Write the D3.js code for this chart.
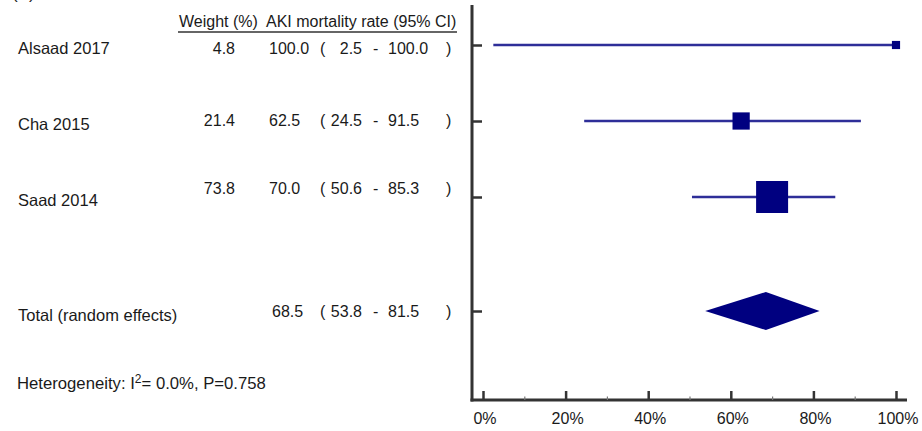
<!DOCTYPE html>
<html>
<head>
  <script src="https://cdn.jsdelivr.net/npm/d3@7/dist/d3.min.js"></script>
  <style>
    body { margin: 0; background: #fff; }
    text { font-family: "Liberation Sans", Arial, sans-serif; fill: #1a1a1a; }
  </style>
</head>
<title>Forest plot: AKI mortality rate</title>
<body>
  <script>
    var width = 922, height = 431;

    // study data
    var studies = ["Alsaad 2017", "Cha 2015", "Saad 2014"];
    var weights = [4.8, 21.4, 73.8];
    var rates = [100.0, 62.5, 70.0];
    var lower = [2.5, 24.5, 50.6];
    var upper = [100.0, 91.5, 85.3];

    // pooled estimate
    var totalLabel = "Total (random effects)";
    var totalRate = 68.5, totalLower = 53.8, totalUpper = 81.5;

    var xTicks = [0, 20, 40, 60, 80, 100];
    var xMinorTicks = [10, 30, 50, 70, 90];
    var rowPos = [0, 1, 2];
    var totalPos = 3.5;

    var svg = d3.select("body")
      .append("svg")
      .attr("width", width)
      .attr("height", height);

    var x = d3.scaleLinear().domain([0, 100]).range([483, 896]);
    var y = d3.scaleLinear().domain([0, 3.5]).range([45, 311]);

    var axisX = 472, axisBottom = 400, axisTop = 5, axisRight = 907;
    var numDy = [8.5, 4.7, -3];   // numbers sit a bit off the row line

    // header
    svg.append("text").attr("x", 179).attr("y", 27).text("Weight (%)")
      .style("font-size", "16px");
    svg.append("text").attr("x", 266).attr("y", 27).text("AKI mortality rate (95% CI)")
      .style("font-size", "16px");
    svg.append("line")
      .attr("x1", 178).attr("x2", 457).attr("y1", 32).attr("y2", 32)
      .attr("stroke", "#333").attr("stroke-width", 1.5);

    // cut-off panel letter at the top
    svg.append("text").attr("x", 12).attr("y", -1).text("(B)")
      .style("font-size", "17px");

    var fmt = d3.format(".1f");

    function numberRow(yy, w, est, lo, hi, shift) {
      var g = svg.append("g").style("font-size", "16px");
      if (w != null) {
        g.append("text").attr("x", 235).attr("y", yy).attr("text-anchor", "end").text(fmt(w));
      }
      g.append("text").attr("x", 269 + shift).attr("y", yy).text(fmt(est));
      g.append("text").attr("x", 320).attr("y", yy).text("(");
      g.append("text").attr("x", 362).attr("y", yy).attr("text-anchor", "end").text(fmt(lo));
      g.append("text").attr("x", 373).attr("y", yy).text("-");
      g.append("text").attr("x", 388).attr("y", yy).text(fmt(hi));
      g.append("text").attr("x", 446).attr("y", yy).text(")");
    }

    // study labels
    svg.append("g").selectAll("text")
      .data(studies)
      .enter().append("text")
      .attr("x", 18)
      .attr("y", (d, i) => y(rowPos[i]) + 9)
      .style("font-size", "16.5px")
      .text(d => d);

    studies.forEach(function (s, i) {
      numberRow(y(rowPos[i]) + numDy[i], weights[i], rates[i], lower[i], upper[i], 0);
    });

    svg.append("text")
      .attr("x", 18).attr("y", y(totalPos) + 10)
      .style("font-size", "16.5px")
      .text(totalLabel);
    numberRow(y(totalPos) + 6, null, totalRate, totalLower, totalUpper, 3);

    // heterogeneity
    var het = svg.append("text").attr("x", 17).attr("y", 389).style("font-size", "16.7px");
    het.append("tspan").text("Heterogeneity: I");
    het.append("tspan").attr("dy", -6).style("font-size", "12px").text("2");
    het.append("tspan").attr("dy", 6).text("= 0.0%, P=0.758");

    // axes
    svg.append("line")
      .attr("x1", axisX).attr("x2", axisX).attr("y1", axisTop).attr("y2", axisBottom + 1.5)
      .attr("stroke", "#333").attr("stroke-width", 3);
    svg.append("line")
      .attr("x1", axisX - 1.5).attr("x2", axisRight).attr("y1", axisBottom).attr("y2", axisBottom)
      .attr("stroke", "#333").attr("stroke-width", 3);

    var rowTicks = svg.append("g")
      .attr("transform", "translate(" + axisX + ",0)")
      .call(d3.axisRight(y).tickValues(rowPos.concat([totalPos])).tickSize(10).tickFormat(""));
    rowTicks.select(".domain").remove();
    rowTicks.selectAll("line").attr("stroke", "#333").attr("stroke-width", 2.5);

    var xAxis = svg.append("g")
      .attr("transform", "translate(0," + axisBottom + ")")
      .call(d3.axisBottom(x).tickValues(xTicks).tickSize(-9).tickPadding(13)
        .tickFormat(d => d + "%"));
    xAxis.select(".domain").remove();
    xAxis.selectAll("line").attr("stroke", "#333").attr("stroke-width", 2.5);
    xAxis.selectAll("text")
      .attr("dx", 1.5)
      .style("font-size", "16px")
      .style("font-family", "'Liberation Sans', Arial, sans-serif")
      .attr("fill", "#1a1a1a");

    var xMinor = svg.append("g")
      .attr("transform", "translate(0," + axisBottom + ")")
      .call(d3.axisBottom(x).tickValues(xMinorTicks).tickSize(-3.5).tickFormat(""));
    xMinor.select(".domain").remove();
    xMinor.selectAll("line").attr("stroke", "#777").attr("stroke-width", 1.2);

    // confidence intervals
    svg.append("g").selectAll("line")
      .data(studies)
      .enter().append("line")
      .attr("x1", (d, i) => x(lower[i]))
      .attr("x2", (d, i) => x(upper[i]))
      .attr("y1", (d, i) => y(rowPos[i]))
      .attr("y2", (d, i) => y(rowPos[i]))
      .attr("stroke", "#2e2e98")
      .attr("stroke-width", 2.5);

    // weighted squares
    var size = d3.scaleSqrt().domain([0, 73.8]).range([0, 32]);
    svg.append("g").selectAll("rect")
      .data(studies)
      .enter().append("rect")
      .attr("x", (d, i) => x(rates[i]) - size(weights[i]) / 2)
      .attr("y", (d, i) => y(rowPos[i]) - size(weights[i]) / 2)
      .attr("width", (d, i) => size(weights[i]))
      .attr("height", (d, i) => size(weights[i]))
      .attr("fill", "#000080");

    // pooled diamond
    var ty = y(totalPos), dh = 19;
    svg.append("path")
      .attr("d", "M" + x(totalLower) + "," + ty +
                 "L" + x(totalRate) + "," + (ty - dh) +
                 "L" + x(totalUpper) + "," + ty +
                 "L" + x(totalRate) + "," + (ty + dh) + "Z")
      .attr("fill", "#000080");
  </script>
</body>
</html>
